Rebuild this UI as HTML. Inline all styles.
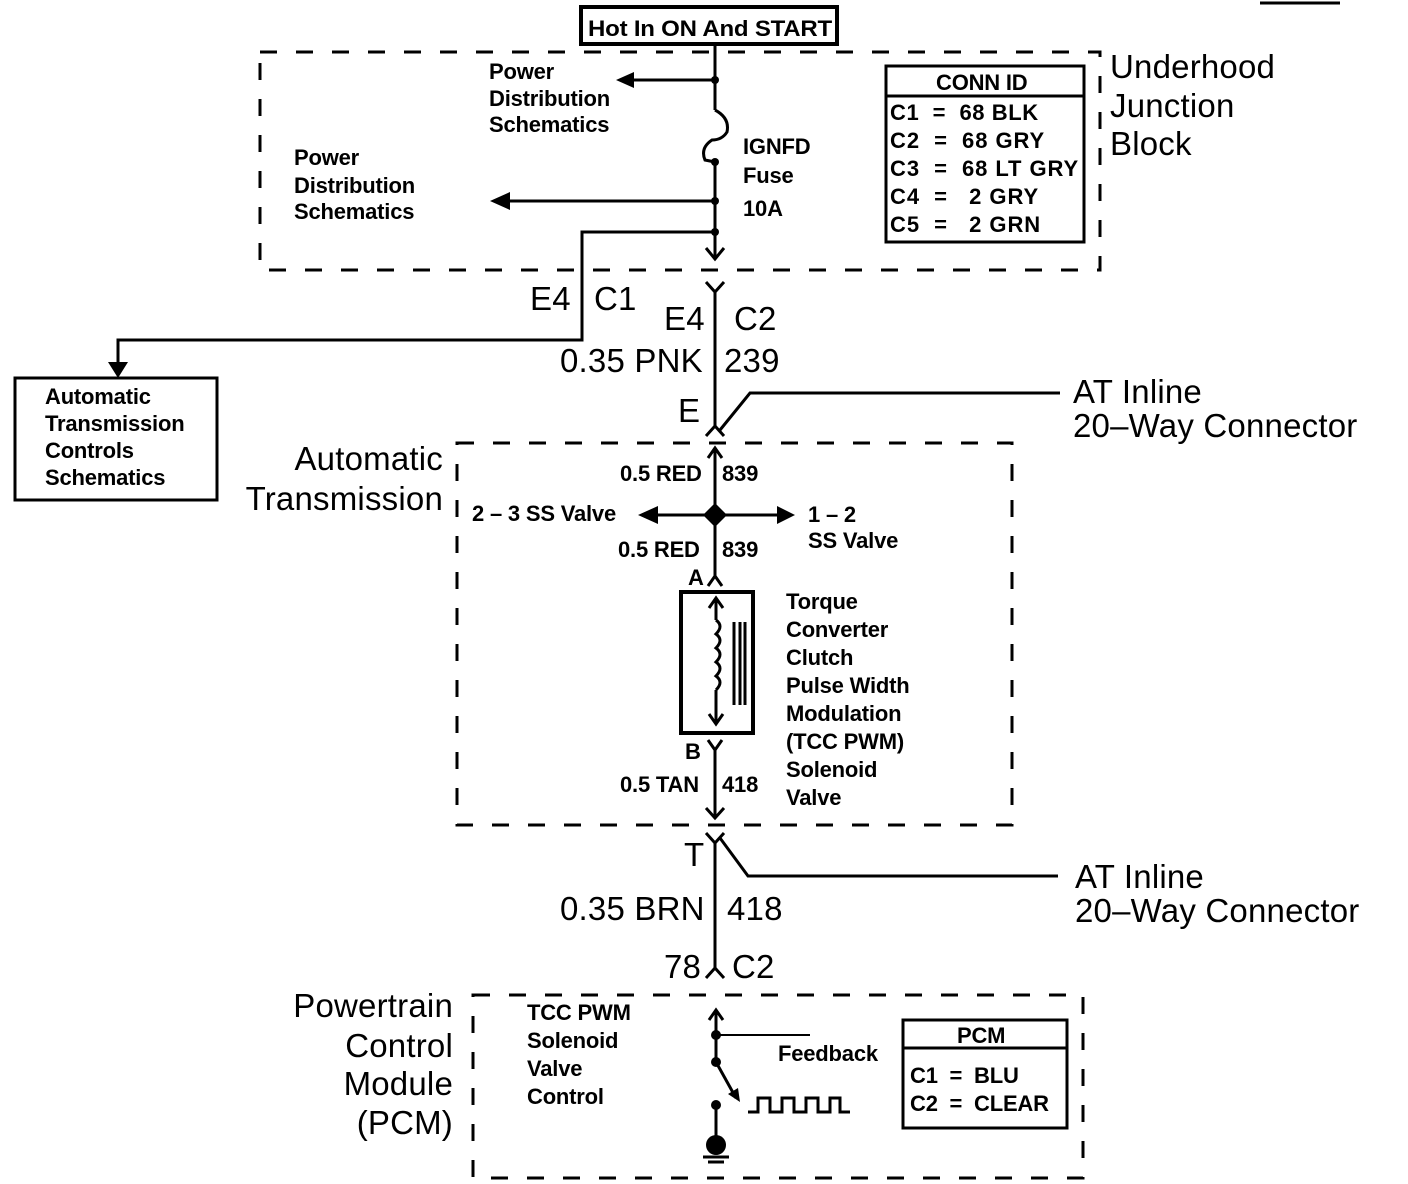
<!DOCTYPE html>
<html><head><style>
body{margin:0;background:#fff}
svg{display:block}
text{font-family:"Liberation Sans",sans-serif;fill:#000;white-space:pre}
.s{font-size:22px;font-weight:bold;letter-spacing:-0.2px}
.b{font-size:33px;letter-spacing:0.2px}
</style></head><body>
<svg width="1408" height="1184" viewBox="0 0 1408 1184" xmlns="http://www.w3.org/2000/svg" xml:space="preserve">
<g fill="none" stroke="#000" stroke-width="3">
<g stroke-dasharray="17,19">
<rect x="260" y="52" width="840" height="218"/>
<rect x="457" y="443" width="555" height="382"/>
<rect x="473" y="995" width="610" height="183"/>
</g>
<line x1="1260" y1="3" x2="1340" y2="3"/>
<rect x="581" y="7" width="256" height="37" stroke-width="4"/>
<line x1="715" y1="44" x2="715" y2="110"/>
<path d="M715 110 Q730 118 727 132 Q722 140 712 140 Q700 148 705 160 L715 162"/>
<line x1="715" y1="162" x2="715" y2="258"/>
<polyline points="706,248 715,259 724,248"/>
<line x1="715" y1="80" x2="625" y2="80"/>
<line x1="715" y1="201" x2="505" y2="201"/>
<polyline points="715,232 582,232 582,340 118,340 118,372"/>
<polyline points="706,282 715,292 724,282"/>
<line x1="715" y1="292" x2="715" y2="428"/>
<polyline points="706,436 715,426 724,436"/>
<polyline points="720,430 750,393 1060,393"/>
<rect x="15" y="378" width="202" height="122"/>
<line x1="715" y1="450" x2="715" y2="578"/>
<polyline points="708,458 715,448 722,458"/>
<line x1="650" y1="515" x2="780" y2="515"/>
<polyline points="708,586 715,576 722,586"/>
<rect x="681" y="592" width="72" height="141" stroke-width="4"/>
<line x1="716" y1="600" x2="716" y2="620"/>
<polyline points="709,608 716,598 723,608"/>
<path d="M716 620 q8 6 0 14 q8 6 0 14 q8 6 0 14 q8 6 0 14 q8 6 0 14" />
<line x1="716" y1="690" x2="716" y2="722"/>
<polyline points="709,714 716,724 723,714"/>
<line x1="734" y1="622" x2="734" y2="705"/>
<line x1="740" y1="622" x2="740" y2="705"/>
<line x1="745" y1="622" x2="745" y2="705"/>
<polyline points="708,740 715,750 722,740"/>
<line x1="715" y1="750" x2="715" y2="816"/>
<polyline points="706,808 715,818 724,808"/>
<polyline points="706,833 715,843 724,833"/>
<line x1="715" y1="843" x2="715" y2="968"/>
<polyline points="720,838 748,876 1058,876"/>
<polyline points="706,978 715,968 724,978"/>
<line x1="716" y1="1012" x2="716" y2="1062"/>
<polyline points="709,1020 716,1010 723,1020"/>
<line x1="716" y1="1035" x2="810" y2="1035" stroke-width="2"/>
<line x1="716" y1="1062" x2="736" y2="1098"/>
<polyline points="748,1112 758,1112 758,1098 770,1098 770,1112 782,1112 782,1098 794,1098 794,1112 806,1112 806,1098 818,1098 818,1112 830,1112 830,1098 840,1098 840,1112 850,1112"/>
<line x1="716" y1="1105" x2="716" y2="1145"/>
<line x1="703" y1="1157" x2="729" y2="1157"/>
<line x1="708" y1="1162" x2="724" y2="1162"/>
<rect x="903" y="1020" width="164" height="108"/>
<line x1="903" y1="1048" x2="1067" y2="1048"/>
<rect x="886" y="66" width="198" height="176"/>
<line x1="886" y1="96" x2="1084" y2="96"/>
</g>
<g fill="#000">
<circle cx="715" cy="80" r="4"/><circle cx="715" cy="162" r="4"/><circle cx="715" cy="201" r="4"/><circle cx="715" cy="232" r="4"/>
<polygon points="616,80 634,72 634,88"/>
<polygon points="490,201 510,192 510,210"/>
<polygon points="108,362 128,362 118,378"/>
<polygon points="715,503 727,515 715,527 703,515"/>
<circle cx="715" cy="515" r="7"/>
<polygon points="638,515 658,506 658,524"/>
<polygon points="795,515 777,506 777,524"/>
<circle cx="716" cy="1035" r="5"/><circle cx="716" cy="1062" r="5"/><circle cx="716" cy="1105" r="5"/>
<polygon points="740,1102 728,1094 738,1088"/>
<circle cx="716" cy="1145" r="10"/>
</g>
<text x="588" y="36" class="s" textLength="244" lengthAdjust="spacingAndGlyphs">Hot In ON And START</text>
<text class="s"><tspan x="489" y="79">Power</tspan><tspan x="489" y="106">Distribution</tspan><tspan x="489" y="132">Schematics</tspan></text>
<text class="s"><tspan x="294" y="165">Power</tspan><tspan x="294" y="193">Distribution</tspan><tspan x="294" y="219">Schematics</tspan></text>
<text class="s"><tspan x="743" y="154">IGNFD</tspan><tspan x="743" y="183">Fuse</tspan><tspan x="743" y="216">10A</tspan></text>
<text class="s" style="font-size:22px"><tspan x="936" y="90">CONN ID</tspan><tspan x="890" y="120" textLength="148">C1  =  68 BLK</tspan><tspan x="890" y="148" textLength="154">C2  =  68 GRY</tspan><tspan x="890" y="176" textLength="188">C3  =  68 LT GRY</tspan><tspan x="890" y="204" textLength="148">C4  =   2 GRY</tspan><tspan x="890" y="232" textLength="150">C5  =   2 GRN</tspan></text>
<text class="b"><tspan x="1110" y="78">Underhood</tspan><tspan x="1110" y="117">Junction</tspan><tspan x="1110" y="155">Block</tspan></text>
<text class="b" x="530" y="310">E4</text><text class="b" x="594" y="310">C1</text>
<text class="b" x="664" y="330">E4</text><text class="b" x="734" y="330">C2</text>
<text class="b" x="560" y="372">0.35 PNK</text><text class="b" x="724" y="372">239</text>
<text class="b" x="678" y="422">E</text>
<text class="b"><tspan x="1073" y="403">AT Inline</tspan><tspan x="1073" y="437">20–Way Connector</tspan></text>
<text class="s"><tspan x="45" y="404">Automatic</tspan><tspan x="45" y="431">Transmission</tspan><tspan x="45" y="458">Controls</tspan><tspan x="45" y="485">Schematics</tspan></text>
<text class="b" text-anchor="end"><tspan x="443" y="470">Automatic</tspan><tspan x="443" y="510">Transmission</tspan></text>
<text class="s" x="620" y="481">0.5 RED</text><text class="s" x="722" y="481">839</text>
<text class="s" x="472" y="521">2 – 3 SS Valve</text>
<text class="s"><tspan x="808" y="522">1 – 2</tspan><tspan x="808" y="548">SS Valve</tspan></text>
<text class="s" x="618" y="557">0.5 RED</text><text class="s" x="722" y="557">839</text>
<text class="s" x="688" y="585">A</text>
<text class="s"><tspan x="786" y="609">Torque</tspan><tspan x="786" y="637">Converter</tspan><tspan x="786" y="665">Clutch</tspan><tspan x="786" y="693">Pulse Width</tspan><tspan x="786" y="721">Modulation</tspan><tspan x="786" y="749">(TCC PWM)</tspan><tspan x="786" y="777">Solenoid</tspan><tspan x="786" y="805">Valve</tspan></text>
<text class="s" x="685" y="759">B</text>
<text class="s" x="620" y="792">0.5 TAN</text><text class="s" x="722" y="792">418</text>
<text class="b" x="684" y="866">T</text>
<text class="b"><tspan x="1075" y="888">AT Inline</tspan><tspan x="1075" y="922">20–Way Connector</tspan></text>
<text class="b" x="560" y="920">0.35 BRN</text><text class="b" x="727" y="920">418</text>
<text class="b" x="664" y="978">78</text><text class="b" x="732" y="978">C2</text>
<text class="b" text-anchor="end"><tspan x="453" y="1017">Powertrain</tspan><tspan x="453" y="1057">Control</tspan><tspan x="453" y="1095">Module</tspan><tspan x="453" y="1134">(PCM)</tspan></text>
<text class="s"><tspan x="527" y="1020">TCC PWM</tspan><tspan x="527" y="1048">Solenoid</tspan><tspan x="527" y="1076">Valve</tspan><tspan x="527" y="1104">Control</tspan></text>
<text class="s" x="778" y="1061">Feedback</text>
<text class="s"><tspan x="957" y="1043">PCM</tspan><tspan x="910" y="1083">C1  =  BLU</tspan><tspan x="910" y="1111">C2  =  CLEAR</tspan></text>
</svg>
</body></html>
